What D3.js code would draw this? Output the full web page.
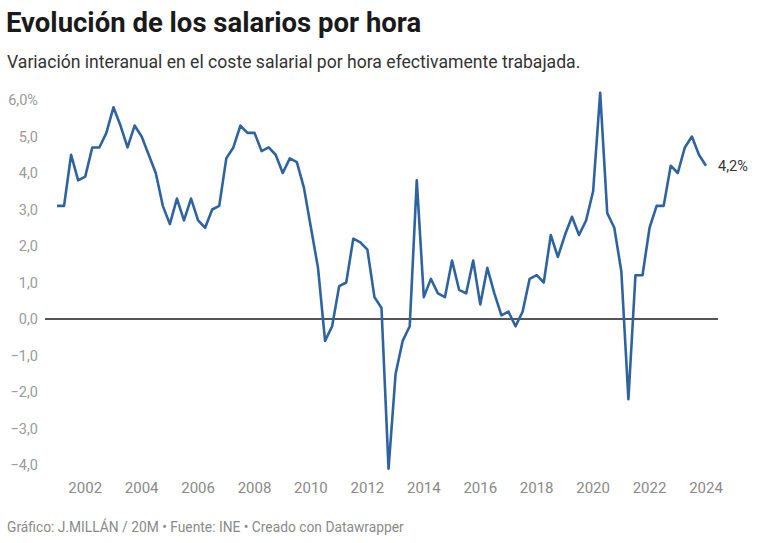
<!DOCTYPE html>
<html>
<head>
<meta charset="utf-8">
<script src="https://cdn.jsdelivr.net/npm/d3@7"></script>
<style>
  body { margin: 0; background: #fff; font-family: Roboto, "Noto Sans", sans-serif; }
  #chart { width: 768px; height: 543px; }
</style>
</head>
<body>
<div id="chart"></div>
<script>
const width = 768;
const height = 543;

// quarterly data, 2001 Q1 .. 2024 Q1
const startYear = 2001;
const values = [
  3.1, 3.1, 4.5, 3.8,
  3.9, 4.7, 4.7, 5.1,
  5.8, 5.3, 4.7, 5.3,
  5.0, 4.5, 4.0, 3.1,
  2.6, 3.3, 2.7, 3.3,
  2.7, 2.5, 3.0, 3.1,
  4.4, 4.7, 5.3, 5.1,
  5.1, 4.6, 4.7, 4.5,
  4.0, 4.4, 4.3, 3.6,
  2.5, 1.4, -0.6, -0.2,
  0.9, 1.0, 2.2, 2.1,
  1.9, 0.6, 0.3, -4.1,
  -1.5, -0.6, -0.2, 3.8,
  0.6, 1.1, 0.7, 0.6,
  1.6, 0.8, 0.7, 1.6,
  0.4, 1.4, 0.7, 0.1,
  0.2, -0.2, 0.2, 1.1,
  1.2, 1.0, 2.3, 1.7,
  2.3, 2.8, 2.3, 2.7,
  3.5, 6.2, 2.9, 2.5,
  1.3, -2.2, 1.2, 1.2,
  2.5, 3.1, 3.1, 4.2,
  4.0, 4.7, 5.0, 4.5,
  4.2
];
const yTicks = [6, 5, 4, 3, 2, 1, 0, -1, -2, -3, -4];
const xTicks = [2002, 2004, 2006, 2008, 2010, 2012, 2014, 2016, 2018, 2020, 2022, 2024];

const data = values.map((v, i) => ({ t: startYear + i / 4, v: v }));

const svg = d3.select("#chart").append("svg")
  .attr("width", width)
  .attr("height", height)
  .style("font-family", "Roboto, sans-serif");

const x = d3.scaleLinear().domain([2001, 2024]).range([57, 706]);
const y = d3.scaleLinear().domain([-4, 6]).range([465, 100]);

// header
svg.append("text")
  .attr("x", 6).attr("y", 32)
  .attr("font-size", 27.5).attr("font-weight", 700)
  .attr("fill", "#1a1a1a")
  .text("Evolución de los salarios por hora");

svg.append("text")
  .attr("x", 7).attr("y", 68)
  .attr("font-size", 17.6)
  .attr("fill", "#333")
  .text("Variación interanual en el coste salarial por hora efectivamente trabajada.");

// y axis labels
const fmt = d => (d < 0 ? "\u2212" : "") + Math.abs(d).toFixed(1).replace(".", ",");
svg.append("g")
  .selectAll("text")
  .data(yTicks)
  .join("text")
  .attr("x", 38)
  .attr("y", d => y(d))
  .attr("dy", "0.35em")
  .attr("text-anchor", "end")
  .attr("font-size", 14.5)
  .attr("fill", "#9a9a9a")
  .text(d => d === 6 ? fmt(d) + "%" : fmt(d));

// x axis labels
svg.append("g")
  .selectAll("text")
  .data(xTicks)
  .join("text")
  .attr("x", d => x(d))
  .attr("y", 493)
  .attr("text-anchor", "middle")
  .attr("font-size", 15)
  .attr("fill", "#8a8a8a")
  .text(d => d);

// zero baseline
svg.append("line")
  .attr("x1", 45).attr("x2", 718)
  .attr("y1", y(0)).attr("y2", y(0))
  .attr("stroke", "#1d1d1d")
  .attr("stroke-width", 1.3);

// series line
const line = d3.line()
  .x(d => x(d.t))
  .y(d => y(d.v));

svg.append("path")
  .datum(data)
  .attr("fill", "none")
  .attr("stroke", "#2f63a0")
  .attr("stroke-width", 2.6)
  .attr("stroke-linejoin", "round")
  .attr("d", line);

// end label
const last = data[data.length - 1];
svg.append("text")
  .attr("x", x(last.t) + 12)
  .attr("y", y(last.v))
  .attr("dy", "0.35em")
  .attr("font-size", 14.5)
  .attr("fill", "#333")
  .text(fmt(last.v) + "%");

// footer
svg.append("text")
  .attr("x", 7).attr("y", 532)
  .attr("font-size", 13.8)
  .attr("fill", "#8a8a8a")
  .text("Gráfico: J.MILLÁN / 20M • Fuente: INE • Creado con Datawrapper");
</script>
</body>
</html>
